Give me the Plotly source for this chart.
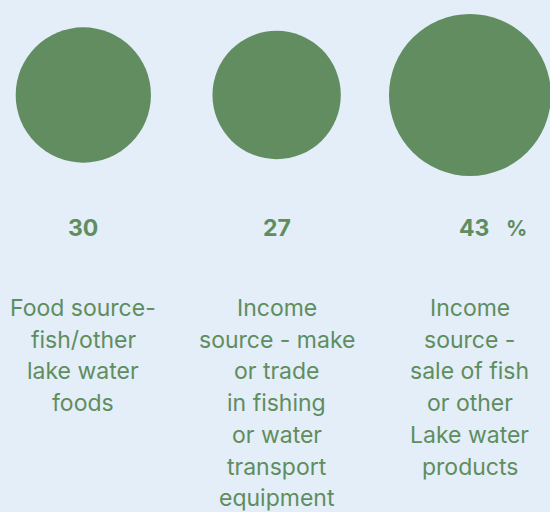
import plotly.graph_objects as go

categories = [
    "Food source-<br>fish/other<br>lake water<br>foods",
    "Income<br>source - make<br>or trade<br>in fishing<br>or water<br>transport<br>equipment",
    "Income<br>source -<br>sale of fish<br>or other<br>Lake water<br>products",
]
values = [30, 27, 43]
units = ["", "", "%"]

GREEN = "#618d60"
TEXT_GREEN = "#5f8d5e"
BG = "#e3eef9"
FONT = "Inter"

xs = list(range(len(values)))

fig = go.Figure()
fig.add_trace(go.Scatter(
    x=xs,
    y=[95] * len(values),
    mode="markers",
    marker=dict(
        size=values,
        sizemode="area",
        sizeref=2 / (24.7 ** 2),
        color=GREEN,
        line=dict(width=0),
        opacity=1,
    ),
    hoverinfo="skip",
    showlegend=False,
))

annotations = []
for i, (v, u, lab) in enumerate(zip(values, units, categories)):
    annotations.append(dict(
        x=i, y=228, xref="x", yref="y", text=f"<b>{v}</b>", showarrow=False,
        xanchor="center", yanchor="middle", xshift=4 if u else 0,
        font=dict(family=FONT, size=23, color=TEXT_GREEN),
    ))
    if u:
        annotations.append(dict(
            x=i, y=228, xref="x", yref="y", text=f"<b>{u}</b>", showarrow=False,
            xanchor="left", yanchor="middle", xshift=34,
            font=dict(family=FONT, size=21, color=TEXT_GREEN),
        ))
    for j, line in enumerate(lab.split("<br>")):
        annotations.append(dict(
            x=i, y=308 + j * 31.7, xref="x", yref="y", text=line, showarrow=False,
            xanchor="center", yanchor="middle",
            font=dict(family=FONT, size=23, color=TEXT_GREEN),
        ))

fig.update_layout(
    width=550, height=512,
    margin=dict(l=0, r=0, t=0, b=0),
    paper_bgcolor=BG, plot_bgcolor=BG,
    xaxis=dict(range=[-0.431, 2.414], visible=False, fixedrange=True),
    yaxis=dict(range=[512, 0], visible=False, fixedrange=True),
    annotations=annotations,
)

fig.write_html("out.html")
